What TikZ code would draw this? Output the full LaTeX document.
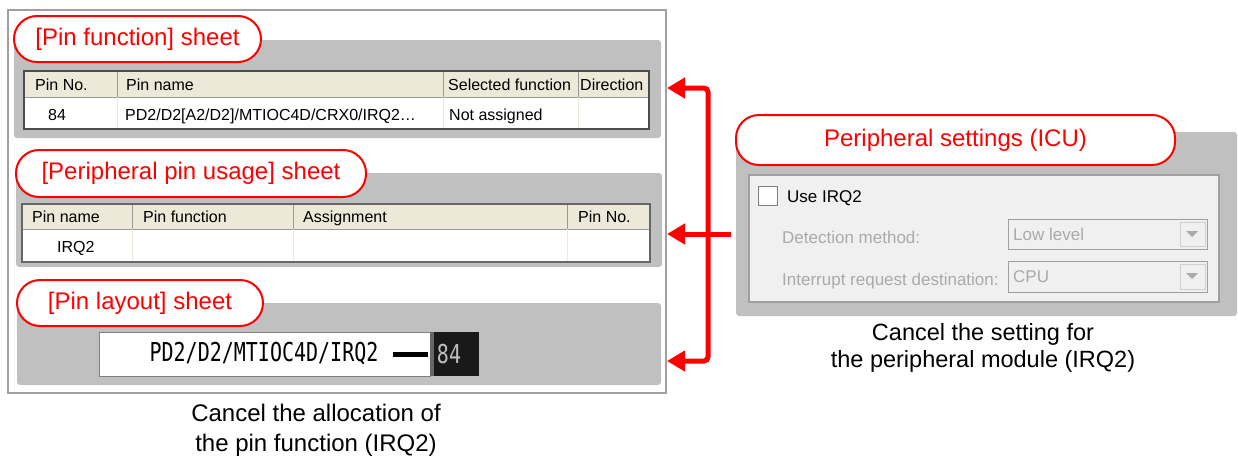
\documentclass[tikz,border=0pt]{standalone}
\usepackage{fontspec}
\setmainfont{Liberation Sans}
\newfontfamily\pinfont{DejaVu Sans Mono}
\usetikzlibrary{arrows.meta, positioning, calc}
\usepackage{xcolor}

\definecolor{sheetred}{RGB}{255,0,0}
\definecolor{panelgray}{RGB}{192,192,192}
\definecolor{framegray}{RGB}{160,160,160}
\definecolor{hdrfill}{RGB}{236,233,216}
\definecolor{dimtext}{RGB}{170,170,170}
\definecolor{formbg}{RGB}{240,240,240}

\newcommand{\pinstr}[1]{\scalebox{1}[1.3]{\pinfont\fontsize{20}{20}\selectfont #1}}

\tikzset{
  sheetlabel/.style={draw=sheetred, line width=2pt, fill=white, rounded corners=23pt,
    text=sheetred, font=\fontsize{24}{28}\selectfont, inner sep=0pt},
  panel/.style={fill=panelgray, rounded corners=3pt},
  hdrcell/.style={draw=gray!80, fill=hdrfill},
  celltext/.style={anchor=base west, inner sep=0pt, font=\fontsize{16}{18}\selectfont},
  formtext/.style={anchor=base west, inner sep=0pt, font=\fontsize{17}{19}\selectfont},
  combo/.style={draw=framegray, fill=formbg},
  caption/.style={align=center, inner sep=0pt},
  cancel/.style={draw=sheetred, line width=5pt},
}

\begin{document}
\begin{tikzpicture}[x=1pt, y=-1pt, >={Triangle[length=18pt,width=20pt]}]
\useasboundingbox (0,0) rectangle (1238,458);

% the three sheets
\draw[framegray, line width=2pt] (8,10) rectangle (666,393);
\fill[panel] (14,40) rectangle (661,138);
\fill[panel] (16,173) rectangle (662,267);
\fill[panel] (17,303) rectangle (661,385);

\node[sheetlabel, minimum width=247pt, minimum height=46pt] (pfLabel) at (137.5,39) {[Pin function] sheet};
\node[sheetlabel, minimum width=350pt, minimum height=47pt] (puLabel) at (191,173.5) {[Peripheral pin usage] sheet};
\node[sheetlabel, minimum width=246pt, minimum height=46pt] (plLabel) at (140,303) {[Pin layout] sheet};

% [Pin function] table
\fill[white] (24,97) rectangle (649,129);
\foreach \xa/\xb in {24/117,117/443,443/578,578/649}
  \draw[hdrcell] (\xa,71) rectangle (\xb,97);
\foreach \x in {117,443,578}
  \draw[hdrfill] (\x,97) -- (\x,129);
\draw[black!70, line width=1.5pt] (24,71) rectangle (649,129);
\foreach \x/\t [count=\i] in {35/Pin No., 126/Pin name, 448/Selected function, 580/Direction}
  \node[celltext] (pfHead\i) at (\x,90.5) {\t};
\node[celltext] (pfNo) at (48,120) {84};
\node[celltext] (pfName) at (125,120) {PD2/D2[A2/D2]/MTIOC4D/CRX0/IRQ2\ldots};
\node[celltext] (pfSel) at (449,120) {Not assigned};

% [Peripheral pin usage] table
\fill[white] (22,229) rectangle (650,262);
\foreach \xa/\xb in {22/132,132/293,293/567,567/650}
  \draw[hdrcell] (\xa,204) rectangle (\xb,229);
\foreach \x in {132,293,567}
  \draw[hdrfill] (\x,229) -- (\x,262);
\draw[black!60, line width=1.5pt] (22,204) rectangle (650,262);
\foreach \x/\t [count=\i] in {32/Pin name, 143/Pin function, 303/Assignment, 578/Pin No.}
  \node[celltext] (puHead\i) at (\x,222.5) {\t};
\node[celltext] (puName) at (57,252) {IRQ2};

% [Pin layout] pin
\draw[gray, fill=white] (99,332) rectangle (430,376);
\fill[black!90] (430,332) rectangle (479,376);
\fill[black!60] (430,332) rectangle (434,376);
\node[inner sep=0pt] (plName) at (264,354) {\pinstr{PD2/D2/MTIOC4D/IRQ2}};
\draw[line width=5pt] (393,354) -- (428,354);
\node[inner sep=0pt, text=black!25] (plNo) at (449,354) {\pinstr{84}};

\node[caption, font=\fontsize{24}{30}\selectfont] (pinCap) at (316,430)
  {Cancel the allocation of\\the pin function (IRQ2)};

% peripheral settings
\fill[panel] (736,132) rectangle (1237,316);
\node[sheetlabel, minimum width=439pt, minimum height=50pt] (icuLabel) at (955.5,140) {Peripheral settings (ICU)};
\draw[framegray, line width=1.5pt, fill=formbg] (749,175) rectangle (1219,302);
\draw[gray, fill=white] (758,186) rectangle (777,205);
\node[formtext] (useIrq) at (787,202) {Use IRQ2};
\node[formtext, text=dimtext] (detLbl) at (782,243) {Detection method:};
\node[formtext, text=dimtext] (dstLbl) at (782,285) {Interrupt request destination:};
\foreach \ya/\yb/\t [count=\i] in {219/249/Low level, 261/292/CPU} {
  \draw[combo] (1008,\ya) rectangle (1207,\yb);
  \draw[framegray!50, fill=formbg] (1180,\ya+3) rectangle (1205,\yb-3);
  \fill[dimtext] (1186,\ya+12) -- (1198,\ya+12) -- (1192,\ya+18) -- cycle;
  \node[formtext, text=dimtext] (combo\i) at (1013,\ya/2+\yb/2+6) {\t};
}
\node[caption, font=\fontsize{23.5}{27}\selectfont] (icuCap) at (983,348)
  {Cancel the setting for\\the peripheral module (IRQ2)};

% red arrows
\coordinate (pfIn) at (667,88);
\coordinate (puIn) at (667,234);
\coordinate (plIn) at (667,361);
\coordinate (icuOut) at (731,234);
\draw[cancel, <->, rounded corners=4pt] (pfIn) -- ++(41,0) |- (plIn);
\draw[cancel, ->] (icuOut) -- (puIn);
\end{tikzpicture}
\end{document}
